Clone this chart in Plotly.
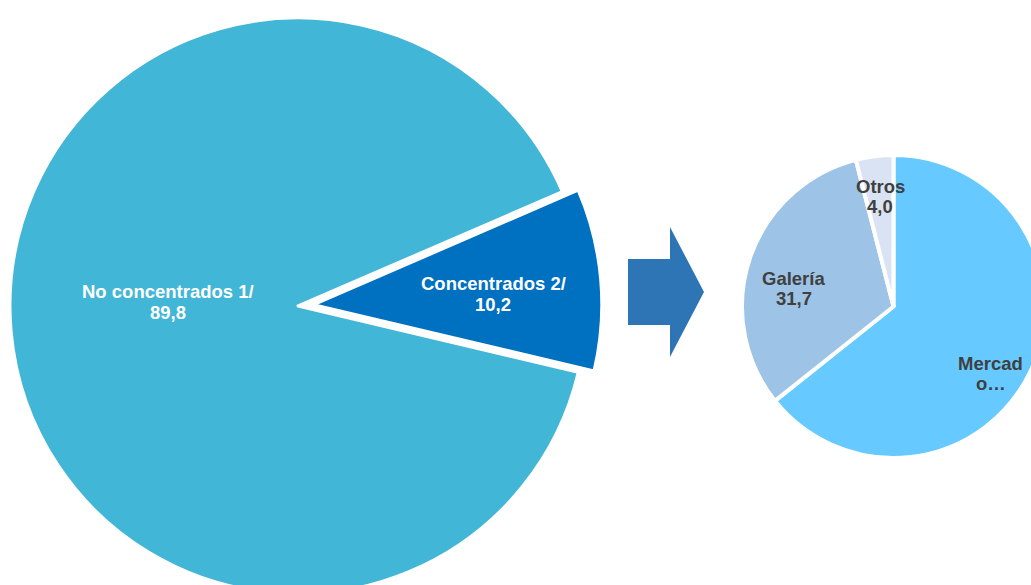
import math
import plotly.graph_objects as go

# ---------------- data ----------------
left_labels = ["Concentrados 2/", "No concentrados 1/"]
left_values = [10.2, 89.8]

right_labels = ["Mercado", "Galería", "Otros"]
right_values = [64.3, 31.7, 4.0]
# label lines as displayed in the reference (the Mercado label is truncated there)
right_line1 = ["Mercad", "Galería", "Otros"]
right_line2 = ["o…", None, None]


def fmt(v):
    return f"{v:.1f}".replace(".", ",")


# ---------------- layout / style ----------------
SHIFT = 8                      # the page is shifted left by this many px
W, H = 1031 + 20 + SHIFT, 612
FONT = "Liberation Sans, Arial, sans-serif"
FS = 18.5
PITCH = 20.5

left_colors = ["#0070C0", "#41B6D6"]
right_colors = ["#66C9FF", "#9DC3E6", "#DAE3F3"]

L_PULL = 0.055
L_ROT = 66.6
L_R = 288
L_CX, L_CY = 298 + SHIFT, 306
L_HALF = L_R * (1 + L_PULL)

R_CX, R_CY, R_R = 893.5 + SHIFT, 306.5, 151.5

fig = go.Figure()

fig.add_trace(go.Pie(
    labels=left_labels, values=left_values, sort=False,
    direction="clockwise", rotation=L_ROT,
    pull=[L_PULL, 0],
    marker=dict(colors=left_colors, line=dict(color="white", width=3)),
    textinfo="none", hoverinfo="none", showlegend=False,
    domain=dict(x=[max(0, (L_CX - L_HALF) / W), (L_CX + L_HALF) / W],
                y=[max(0, (H - L_CY - L_HALF) / H), min(1, (H - L_CY + L_HALF) / H)]),
))

fig.add_trace(go.Pie(
    labels=right_labels, values=right_values, sort=False,
    direction="clockwise", rotation=0,
    marker=dict(colors=right_colors, line=dict(color="white", width=4)),
    textinfo="none", hoverinfo="none", showlegend=False,
    domain=dict(x=[(R_CX - R_R) / W, (R_CX + R_R) / W],
                y=[(H - R_CY - R_R) / H, (H - R_CY + R_R) / H]),
))


def mid_angles(values, rotation):
    tot = sum(values)
    out, acc = [], rotation
    for v in values:
        out.append(acc + 360 * v / tot / 2)
        acc += 360 * v / tot
    return out


annotations = []


def add_label(cx, cy, r, ang, frac, lines, color):
    a = math.radians(ang)
    px = cx + frac * r * math.sin(a)
    py = cy - frac * r * math.cos(a)
    n = len(lines)
    for i, t in enumerate(lines):
        ly = py + (i - (n - 1) / 2) * PITCH
        annotations.append(dict(
            x=px / W, y=1 - ly / H, xref="paper", yref="paper",
            text=f"<b>{t}</b>", showarrow=False,
            xanchor="center", yanchor="middle",
            font=dict(family=FONT, size=FS, color=color),
        ))


# placement style: (angle offset, radial fraction)
left_place = [(1.6, 0.68), (6.8, 0.45)]
for lab, v, m, (da, fr) in zip(left_labels, left_values,
                               mid_angles(left_values, L_ROT), left_place):
    add_label(L_CX, L_CY, L_R, m + da, fr, [lab, fmt(v)], "white")

right_place = [(8.7, 0.78), (-8.3, 0.67), (0.2, 0.73)]
for l1, l2, v, m, (da, fr) in zip(right_line1, right_line2, right_values,
                                  mid_angles(right_values, 0), right_place):
    add_label(R_CX, R_CY, R_R, m + da, fr, [l1, l2 if l2 else fmt(v)], "#404040")


def P(x, y):
    return f"{(x + SHIFT) / W:.5f},{1 - y / H:.5f}"


arrow_path = ("M " + P(628, 259) + " L " + P(670, 259) + " L " + P(670, 227) +
              " L " + P(704, 292) + " L " + P(670, 357) + " L " + P(670, 325) +
              " L " + P(628, 325) + " Z")

fig.update_layout(
    width=W, height=H, autosize=False,
    margin=dict(l=0, r=0, t=0, b=0),
    paper_bgcolor="white", plot_bgcolor="white",
    annotations=annotations,
    shapes=[dict(type="path", xref="paper", yref="paper", path=arrow_path,
                 fillcolor="#2E75B6", line=dict(width=0))],
)

fig.write_html(
    "out.html",
    config={"displayModeBar": False, "staticPlot": True},
    post_script="document.body.style.margin='0';"
                "document.body.style.overflow='hidden';"
                "document.documentElement.style.overflow='hidden';"
                "var gd=document.querySelector('.plotly-graph-div');"
                "gd.style.marginLeft='-" + str(SHIFT) + "px';",
)
